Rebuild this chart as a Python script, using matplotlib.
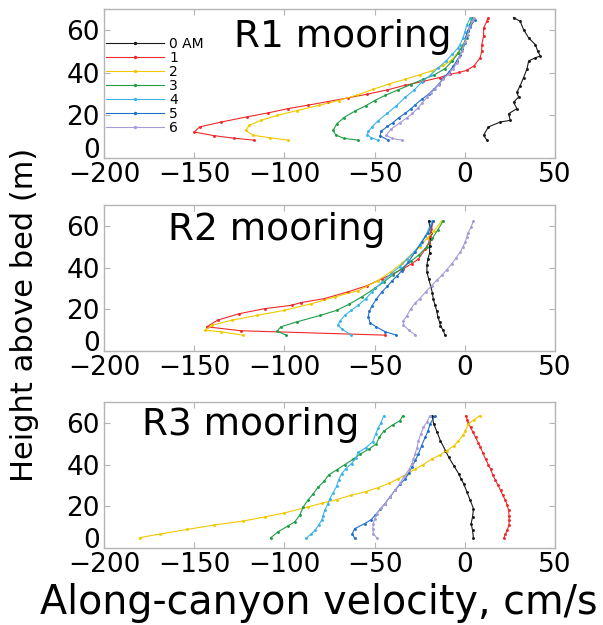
import matplotlib
matplotlib.use("Agg")
import matplotlib.pyplot as plt

# ---------------- data ----------------
labels = ["0 AM", "1", "2", "3", "4", "5", "6"]
colors = ["#1a1a1a", "#ee2a2a", "#f2c800", "#1f9e48", "#3bb3ea", "#2070cc", "#a99bd8"]
x_ticks = [-200, -150, -100, -50, 0, 50]
y_ticks = [0, 20, 40, 60]
titles = ["R1 mooring", "R2 mooring", "R3 mooring"]

# R1 mooring
r1_v0 = [12.2, 10.4, 13.1, 19.6, 25.2, 24.3, 28.9, 27.0, 29.8, 28.9, 30.7, 32.6, 34.4, 35.4, 39.1, 41.9, 40.4, 39.1, 35.4, 32.6, 30.7, 27.0]
r1_z0 = [8.4, 10.7, 14.6, 16.9, 17.7, 20.8, 23.2, 26.2, 28.6, 30.9, 34.0, 37.8, 41.7, 45.6, 47.1, 47.9, 50.2, 53.3, 56.4, 60.3, 64.2, 66.0]
r1_v1 = [-117, -128, -139, -150, -147, -135, -121, -109, -98, -87, -76, -65, -54, -43, -33, -23, -14, -8, -3, 1, 5, 8.5, 9.4, 9.4, 10.4, 10.4, 12.2, 13.1]
r1_z1 = [8.4, 9.3, 10.5, 12.2, 14.6, 16.9, 19.3, 21.2, 23.2, 24.8, 26.5, 28.2, 30.0, 32.0, 34.2, 36.0, 37.8, 39.4, 40.2, 41.2, 43.2, 47.1, 50.2, 53.3, 57.3, 61.1, 64.2, 66.0]
r1_v2 = [-98, -108, -117.5, -121.5, -119.5, -113, -104, -93, -81, -70, -60, -51, -42, -33, -25, -18, -12, -8, -4, 0, 2, 3.5, 4]
r1_z2 = [8.4, 9.5, 10.7, 13.0, 15.3, 17.7, 20.0, 22.3, 24.7, 27.0, 29.5, 32.2, 34.8, 37.0, 39.1, 41.0, 43.5, 45.5, 49.4, 54.8, 59.5, 64.2, 66.0]
r1_v3 = [-59, -67, -71.5, -73, -71, -67, -61, -55, -50, -44, -37, -30, -23, -17, -11, -7, -3.5, -1, 1, 2, 3, 4]
r1_z3 = [8.4, 9.2, 10.8, 13.0, 16.0, 19.0, 22.0, 24.5, 27.0, 29.5, 32.0, 34.5, 37.0, 39.0, 42.0, 45.5, 49.4, 53.0, 56.5, 60.0, 63.0, 65.7]
r1_v4 = [-48, -52, -54, -53.5, -51.5, -48, -43, -38, -33, -28, -24, -19, -14.6, -10.5, -7, -4, -2.6, -1, 0, 1.1, 3]
r1_z4 = [8.4, 9.5, 11.0, 12.5, 14.6, 17.5, 21.0, 24.5, 28.5, 32.0, 35.5, 39.0, 42.5, 45.5, 48.7, 51.5, 53.3, 56.5, 59.0, 62.6, 65.7]
r1_v5 = [-42.5, -47, -46.5, -43, -40, -36.5, -33, -30, -27.5, -24, -20, -17, -14.5, -12, -9, -6.5, -4.5, -2.5, -1.5, 0, 0.5, 1.5, 3, 5.5]
r1_z5 = [8.4, 10.5, 12.5, 14.8, 16.5, 19.0, 21.0, 23.0, 25.0, 27.5, 30.0, 32.5, 34.7, 37.5, 40.2, 43.0, 45.6, 48.5, 51.0, 54.0, 57.0, 59.5, 61.5, 65.0]
r1_v6 = [-35, -40.5, -43.5, -41, -36, -32, -29, -26, -23.5, -21, -19, -16.5, -14.5, -12, -9, -6.5, -4.5, -3, -1.5, 0, 1.5, 2.5, 4, 5]
r1_z6 = [8.4, 9.2, 10.7, 13.5, 16.5, 19.0, 21.0, 23.5, 26.0, 28.5, 30.5, 32.5, 34.5, 37.0, 39.5, 42.0, 44.5, 47.5, 50.5, 54.5, 58.0, 61.0, 64.2, 66.0]

# R2 mooring
r2_v0 = [-11, -12, -13.5, -14, -15, -15.5, -16.5, -17.5, -18, -19, -20, -21, -21, -20.5, -19.5, -19.5, -19, -18.7, -19.5, -20]
r2_z0 = [7.6, 10.0, 12.0, 14.0, 16.5, 19.0, 22.0, 25.0, 28.0, 31.4, 34.5, 37.8, 41.0, 44.0, 47.0, 50.5, 53.5, 56.8, 60.0, 62.4]
r2_v1 = [-44, -124, -143, -137, -125, -111, -96, -91, -78, -65, -54, -46, -40, -34, -29.5, -25.7, -22, -20, -19.3, -18.5, -17.4]
r2_z1 = [7.6, 9.7, 11.6, 14.8, 17.9, 20.3, 21.9, 23.2, 25.1, 28.3, 31.4, 34.6, 37.0, 39.5, 41.8, 44.1, 48.8, 52.0, 55.1, 58.5, 62.4]
r2_v2 = [-123, -135, -144, -140, -129, -115, -100, -85, -72, -59, -48, -41, -35, -30, -25, -21, -17, -12.8]
r2_z2 = [7.6, 9.2, 10.0, 12.4, 14.8, 17.1, 19.5, 22.7, 25.9, 29.0, 33.8, 38.0, 42.0, 46.0, 50.0, 54.0, 57.6, 62.4]
r2_v3 = [-99, -104, -102, -93, -80, -71, -64, -57, -50, -45, -40, -35, -30, -25.5, -21, -18, -15, -12]
r2_z3 = [7.6, 9.5, 11.6, 14.0, 17.1, 19.5, 22.5, 26.0, 30.0, 33.0, 36.5, 39.5, 43.0, 46.0, 50.0, 54.0, 58.0, 62.4]
r2_v4 = [-63, -68, -70.5, -69, -66.5, -63, -59, -55, -51.5, -46, -41, -36, -32, -28, -25, -22, -20, -18]
r2_z4 = [7.6, 10.5, 12.4, 14.5, 17.1, 19.5, 22.0, 25.0, 28.3, 33.0, 37.0, 40.5, 44.0, 47.5, 51.0, 55.0, 58.5, 62.4]
r2_v5 = [-38, -44, -49, -52.5, -53.5, -53, -51.5, -49, -46, -43, -40.5, -37.5, -35, -31.5, -27.6, -24, -20.2, -17.4]
r2_z5 = [7.6, 9.2, 11.5, 13.5, 16.3, 19.0, 21.5, 25.0, 28.3, 31.0, 33.5, 36.0, 38.5, 42.5, 47.3, 52.1, 56.8, 62.4]
r2_v6 = [-27.5, -31, -34, -34, -32, -30, -27.5, -25, -21.5, -18.3, -15.5, -12.8, -10, -7.2, -5, -2.6, -1, 0.2, 1, 2, 3.5, 4.8]
r2_z6 = [7.6, 10.0, 12.5, 14.5, 17.0, 20.3, 23.0, 25.1, 28.5, 31.4, 34.0, 36.2, 39.0, 41.8, 44.5, 47.3, 50.0, 52.1, 54.5, 56.8, 59.5, 62.4]

# R3 mooring
r3_v0 = [4.8, 4.3, 3.5, 4.3, 4.8, 3.0, 1.2, -0.6, -2, -3.4, -6.1, -8.9, -10.7, -13.5, -15.3, -17.2, -18.1]
r3_z0 = [4.6, 8.5, 11.7, 14.9, 18.9, 22.9, 26.8, 30.8, 33.0, 35.6, 39.5, 43.5, 46.7, 51.4, 55.4, 59.4, 63.3]
r3_v1 = [21.5, 22.5, 23.4, 24.5, 24.6, 24.5, 24.3, 23.5, 22.5, 21, 19.8, 18.5, 17, 15.5, 14.3, 13, 11.5, 10, 8.7, 7.5, 6, 4.5, 3.2, 2, 1.4, 0.4]
r3_z1 = [4.6, 6.5, 8.5, 11.0, 13.3, 15.5, 18.1, 20.5, 22.9, 25.3, 27.6, 30.0, 32.4, 35.0, 37.9, 40.0, 42.7, 45.5, 48.3, 50.5, 53.0, 55.5, 57.8, 60.0, 61.5, 63.3]
r3_v2 = [-180, -169, -154, -139, -123, -111, -100, -87, -79, -71, -63, -55, -48, -42, -37, -32, -27.5, -23, -18.3, -14, -10, -6, -3.5, -1, 0.2, 2, 5, 8.5]
r3_z2 = [5.0, 6.7, 8.9, 11.0, 12.9, 14.9, 16.8, 19.7, 21.5, 23.2, 25.3, 27.0, 29.0, 31.0, 33.2, 35.5, 37.9, 40.0, 42.7, 44.5, 46.7, 49.0, 51.4, 54.0, 56.2, 59.4, 61.5, 63.5]
r3_v3 = [-107.6, -103.5, -98, -94.3, -91.5, -89.6, -87, -84, -81.3, -78, -75.5, -71, -66.5, -62, -58, -53, -49, -47.5, -45, -40, -36, -34.5]
r3_z3 = [4.9, 7.8, 10.6, 12.5, 15.7, 19.7, 22.9, 26.0, 29.2, 32.0, 35.0, 37.5, 40.0, 42.5, 45.0, 47.5, 50.0, 53.0, 56.0, 59.0, 61.0, 63.3]
r3_v4 = [-88, -85.5, -83, -81, -79.4, -78.5, -77.6, -76, -74.8, -73, -71.1, -70, -68.3, -66, -62.8, -60.5, -59, -55, -51, -49.5, -48, -46.5, -45]
r3_z4 = [4.6, 6.5, 8.6, 11.0, 13.3, 15.5, 18.1, 21.0, 23.7, 26.5, 29.5, 32.5, 35.6, 38.0, 40.5, 43.0, 45.9, 48.0, 51.0, 54.5, 57.5, 60.0, 63.3]
r3_v5 = [-61, -62.4, -61, -55.5, -52, -49.8, -47, -44.3, -41.5, -38.7, -36, -33, -31, -29.4, -27.5, -25.7, -24, -22, -20.5, -19.3, -16.5]
r3_z5 = [4.6, 6.9, 9.3, 11.7, 13.5, 15.6, 18.5, 21.2, 24.5, 27.6, 30.5, 33.2, 36.0, 38.7, 42.0, 45.1, 49.0, 53.0, 56.0, 59.4, 63.3]
r3_v6 = [-48.5, -50.7, -51, -50.7, -50, -48.9, -46.5, -44.3, -41.5, -38.7, -36, -33.5, -31, -29.4, -28.5, -27.6, -26.5, -25.7, -24.5, -22.9, -21, -19.3]
r3_z6 = [4.6, 6.9, 9.3, 11.7, 14.0, 16.5, 19.0, 21.2, 24.5, 27.6, 31.0, 34.5, 37.5, 40.3, 42.5, 45.1, 48.0, 51.4, 54.5, 57.8, 60.5, 63.3]

panels = [
    [(r1_v0, r1_z0), (r1_v1, r1_z1), (r1_v2, r1_z2), (r1_v3, r1_z3), (r1_v4, r1_z4), (r1_v5, r1_z5), (r1_v6, r1_z6)],
    [(r2_v0, r2_z0), (r2_v1, r2_z1), (r2_v2, r2_z2), (r2_v3, r2_z3), (r2_v4, r2_z4), (r2_v5, r2_z5), (r2_v6, r2_z6)],
    [(r3_v0, r3_z0), (r3_v1, r3_z1), (r3_v2, r3_z2), (r3_v3, r3_z3), (r3_v4, r3_z4), (r3_v5, r3_z5), (r3_v6, r3_z6)],
]

# ---------------- layout ----------------
W, H = 603, 625
fig = plt.figure(figsize=(W / 100, H / 100), dpi=100)
fig.patch.set_facecolor("white")

ax_px = [(104, 9, 555, 158), (104, 205, 555, 351), (104, 402, 555, 548)]
title_pos = [(0.53, 0.745), (0.384, 0.76), (0.326, 0.774)]
frame_col = "#b5b5b5"

for i, (l, t, r, b) in enumerate(ax_px):
    ax = fig.add_axes([l / W, 1 - b / H, (r - l) / W, (b - t) / H])
    for k, (v, z) in enumerate(panels[i]):
        ax.plot(v, z, color=colors[k], lw=0.8, marker=".", ms=2.2,
                label=labels[k])
    ax.set_xlim(-200, 50)
    ax.set_ylim(0, 70)
    ax.set_xticks(x_ticks)
    ax.set_yticks(y_ticks)
    ax.tick_params(direction="in", length=4, width=0.8, color=frame_col,
                   top=True, right=True, labelsize=19, pad=3)
    ax.get_yticklabels()[0].set_verticalalignment("baseline")
    for s in ax.spines.values():
        s.set_color(frame_col)
        s.set_linewidth(1.0)
    ax.text(title_pos[i][0], title_pos[i][1], titles[i], transform=ax.transAxes,
            ha="center", va="baseline", fontsize=27)
    if i == 0:
        ax.legend(loc="upper left", bbox_to_anchor=(0.004, 0.812), frameon=False,
                  fontsize=10, handlelength=4.2, handletextpad=0.35,
                  labelspacing=0.0, borderaxespad=0, borderpad=0,
                  numpoints=1, markerscale=1.3)

fig.text(319 / W, 1 - 603 / H, "Along-canyon velocity, cm/s", ha="center",
         va="center", fontsize=28.5)
fig.text(25 / W, 1 - 315 / H, "Height above bed (m)", ha="center", va="center",
         rotation=90, fontsize=22)

fig.savefig("out.png", dpi=100, facecolor="white")
